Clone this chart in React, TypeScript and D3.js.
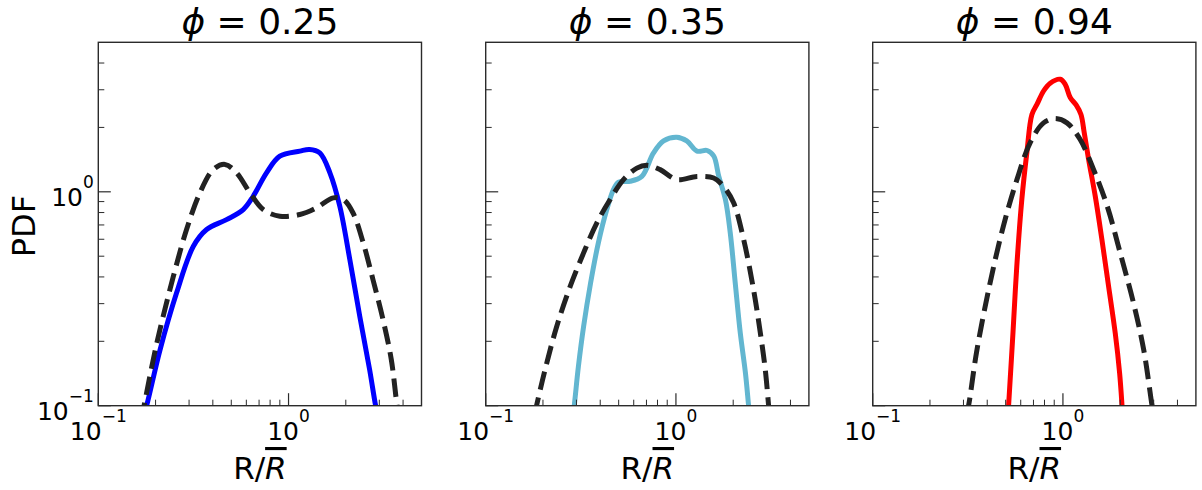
import React from "react";
import * as d3 from "d3";

// ---------- data ----------
const PHI_LABELS = ["0.25", "0.35", "0.94"];
const SOLID_COLORS = ["#0000ff", "#62b6d0", "#ff0000"];
const DASH_COLOR = "#222222";

const X_DOMAIN = [0.1, 5];
const Y_DOMAIN = [0.1, 5];
const MAJOR_TICKS = [0.1, 1];
const MINOR_TICKS = [0.2, 0.3, 0.4, 0.5, 0.6, 0.7, 0.8, 0.9, 2, 3, 4];
const TICK_EXPONENTS = ["−1", "0"];

// Panel 1 (phi = 0.25)
const p1SolidX = [0.17, 0.1795, 0.211, 0.258, 0.316, 0.371, 0.472, 0.578, 0.652, 0.766, 0.9, 1.147, 1.29, 1.46, 1.65, 1.86, 2.1, 2.37, 2.67, 2.87, 2.95];
const p1SolidY = [0.085, 0.1, 0.182, 0.337, 0.556, 0.666, 0.741, 0.826, 0.953, 1.227, 1.468, 1.55, 1.578, 1.52, 1.227, 0.856, 0.482, 0.261, 0.147, 0.1, 0.09];
const p1DashX = [0.168, 0.174, 0.203, 0.248, 0.291, 0.342, 0.402, 0.463, 0.533, 0.627, 0.736, 0.9, 1.147, 1.4, 1.72, 1.94, 2.18, 2.47, 2.78, 3.14, 3.47, 3.72, 3.8];
const p1DashY = [0.085, 0.1, 0.196, 0.402, 0.666, 0.989, 1.27, 1.343, 1.227, 0.989, 0.826, 0.769, 0.783, 0.841, 0.937, 0.92, 0.798, 0.577, 0.388, 0.252, 0.164, 0.1, 0.09];

// Panel 2 (phi = 0.35)
const p2SolidX = [0.285, 0.292, 0.307, 0.327, 0.356, 0.391, 0.433, 0.47, 0.499, 0.574, 0.662, 0.762, 0.861, 1.01, 1.14, 1.29, 1.46, 1.58, 1.68, 1.82, 1.93, 2.05, 2.18, 2.32, 2.41, 2.44];
const p2SolidY = [0.085, 0.1, 0.152, 0.234, 0.375, 0.577, 0.826, 1.026, 1.11, 1.12, 1.18, 1.52, 1.73, 1.8, 1.73, 1.55, 1.56, 1.47, 1.18, 0.92, 0.643, 0.375, 0.218, 0.142, 0.1, 0.09];
const p2DashX = [0.18, 0.185, 0.205, 0.236, 0.278, 0.327, 0.384, 0.451, 0.53, 0.623, 0.703, 0.826, 1.01, 1.29, 1.58, 1.78, 2.01, 2.27, 2.56, 2.78, 2.95, 3.07, 3.1];
const p2DashY = [0.09, 0.1, 0.147, 0.234, 0.361, 0.518, 0.716, 0.92, 1.14, 1.29, 1.33, 1.27, 1.14, 1.18, 1.16, 1.06, 0.888, 0.598, 0.348, 0.218, 0.147, 0.1, 0.09];

// Panel 3 (phi = 0.94)
const p3SolidX = [0.512, 0.518, 0.546, 0.572, 0.608, 0.646, 0.687, 0.73, 0.791, 0.857, 0.968, 1.028, 1.092, 1.175, 1.244, 1.294, 1.364, 1.479, 1.603, 1.738, 1.884, 1.986, 2.045, 2.06];
const p3SolidY = [0.085, 0.1, 0.218, 0.448, 0.92, 1.52, 2.3, 2.56, 2.96, 3.22, 3.36, 3.18, 2.76, 2.54, 2.3, 1.89, 1.42, 0.953, 0.598, 0.361, 0.218, 0.142, 0.1, 0.09];
const p3DashX = [0.31, 0.319, 0.353, 0.414, 0.486, 0.573, 0.673, 0.791, 0.91, 1.05, 1.23, 1.45, 1.71, 2.0, 2.35, 2.66, 2.94, 3.0];
const p3DashY = [0.09, 0.1, 0.182, 0.375, 0.69, 1.14, 1.7, 2.1, 2.2, 2.1, 1.76, 1.27, 0.856, 0.518, 0.302, 0.182, 0.1, 0.09];

const SOLID_X = [p1SolidX, p2SolidX, p3SolidX];
const SOLID_Y = [p1SolidY, p2SolidY, p3SolidY];
const DASH_X = [p1DashX, p2DashX, p3DashX];
const DASH_Y = [p1DashY, p2DashY, p3DashY];

// ---------- layout ----------
const W = 1202;
const H = 490;
const PANEL_LEFTS = [98.3, 485.7, 872.7];
const PANEL_TOP = 42.3;
const PANEL_W = 323.2;
const PANEL_H = 363.4;
const FONT = "'DejaVu Sans', sans-serif";
const SPINE = "#2b2b2b";

function Panel({ idx }: { idx: number }) {
  const left = PANEL_LEFTS[idx];
  const xs = d3.scaleLog().domain(X_DOMAIN).range([left, left + PANEL_W]);
  const ys = d3.scaleLog().domain(Y_DOMAIN).range([PANEL_TOP + PANEL_H, PANEL_TOP]);
  const line = d3
    .line<[number, number]>()
    .x((d) => xs(d[0]))
    .y((d) => ys(d[1]))
    .curve(d3.curveCatmullRom.alpha(0.5));
  const solid: [number, number][] = SOLID_X[idx].map((x, i) => [x, SOLID_Y[idx][i]]);
  const dash: [number, number][] = DASH_X[idx].map((x, i) => [x, DASH_Y[idx][i]]);
  const bottom = PANEL_TOP + PANEL_H;
  const cx = left + PANEL_W / 2;
  const clipId = `clip${idx}`;
  return (
    <g>
      <defs>
        <clipPath id={clipId}>
          <rect x={left} y={PANEL_TOP} width={PANEL_W} height={PANEL_H} />
        </clipPath>
      </defs>
      <g clipPath={`url(#${clipId})`}>
        <path d={line(solid) || ""} fill="none" stroke={SOLID_COLORS[idx]} strokeWidth={5} strokeLinejoin="round" />
        <path d={line(dash) || ""} fill="none" stroke={DASH_COLOR} strokeWidth={5} strokeDasharray="18.5 8" strokeLinejoin="round" />
      </g>
      {MAJOR_TICKS.map((t) => (
        <line key={`ym${t}`} x1={left} x2={left + 12.5} y1={ys(t)} y2={ys(t)} stroke={SPINE} strokeWidth={1.2} />
      ))}
      {MINOR_TICKS.map((t) => (
        <line key={`yn${t}`} x1={left} x2={left + 6} y1={ys(t)} y2={ys(t)} stroke={SPINE} strokeWidth={1} />
      ))}
      {MAJOR_TICKS.map((t) => (
        <line key={`xm${t}`} x1={xs(t)} x2={xs(t)} y1={bottom} y2={bottom - 12.5} stroke={SPINE} strokeWidth={1.2} />
      ))}
      {MINOR_TICKS.map((t) => (
        <line key={`xn${t}`} x1={xs(t)} x2={xs(t)} y1={bottom} y2={bottom - 6} stroke={SPINE} strokeWidth={1} />
      ))}
      <rect x={left} y={PANEL_TOP} width={PANEL_W} height={PANEL_H} fill="none" stroke={SPINE} strokeWidth={1.4} />
      {MAJOR_TICKS.map((t, i) => (
        <text key={`xl${t}`} x={xs(t)} y={440} textAnchor="middle" fontFamily={FONT} fontSize={25} fill="#000">
          10
          <tspan dy={-18.3} fontSize={17}>{TICK_EXPONENTS[i]}</tspan>
        </text>
      ))}
      {idx === 0 &&
        MAJOR_TICKS.map((t, i) => (
          <text key={`yl${t}`} x={left - 4.5} y={ys(t) + 14.4} textAnchor="end" fontFamily={FONT} fontSize={25} fill="#000">
            10
            <tspan dy={-18.3} fontSize={17}>{TICK_EXPONENTS[i]}</tspan>
          </text>
        ))}
      <text x={cx} y={33.5} textAnchor="middle" fontFamily={FONT} fontSize={36} fill="#000">
        <tspan fontStyle="italic">ϕ</tspan>
        <tspan> = {PHI_LABELS[idx]}</tspan>
      </text>
      <text x={cx} y={479} textAnchor="middle" fontFamily={FONT} fontSize={31} fill="#000">
        R/
        <tspan fontStyle="italic" style={{ textDecoration: "overline" }}>R</tspan>
      </text>
    </g>
  );
}

export default function App() {
  return (
    <svg
      width={W}
      height={H}
      viewBox={`0 0 ${W} ${H}`}
      style={{ position: "absolute", left: 0, top: 0, background: "#fff" }}
    >
      <rect x={0} y={0} width={W} height={H} fill="#fff" />
      {[0, 1, 2].map((i) => (
        <Panel key={i} idx={i} />
      ))}
      <text
        transform={`translate(35, 226) rotate(-90)`}
        textAnchor="middle"
        fontFamily={FONT}
        fontSize={32}
        fill="#000"
      >
        PDF
      </text>
    </svg>
  );
}
